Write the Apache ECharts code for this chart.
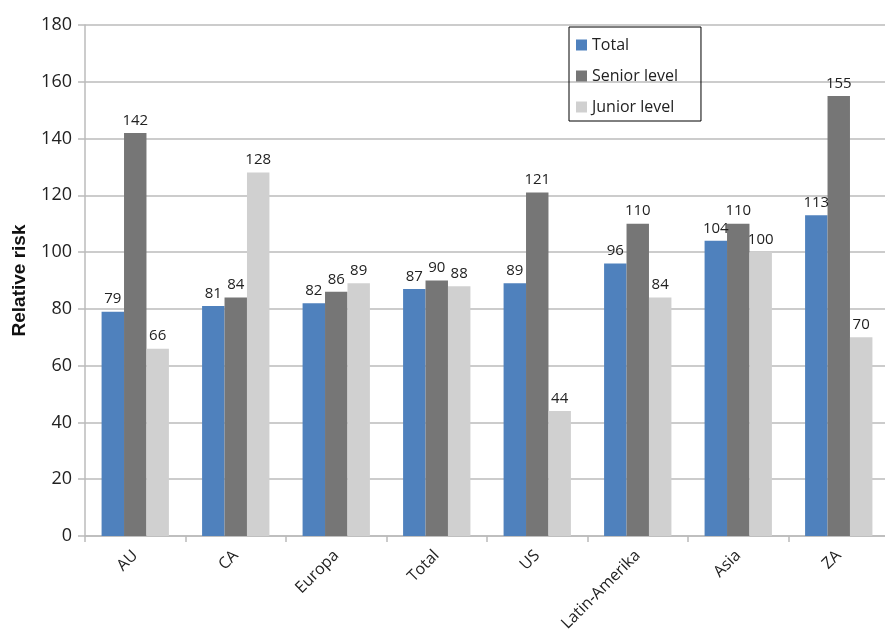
<!DOCTYPE html>
<html>
<head>
<meta charset="UTF-8">
<title>Relative risk</title>
<script src="https://cdn.jsdelivr.net/npm/echarts@6/dist/echarts.min.js"></script>
<style>
  html, body { margin: 0; padding: 0; background: #fff; }
  #main { width: 885px; height: 631px; }
</style>
</head>
<body>
<div id="main"></div>
<script>
// categories and values
var categories = ['AU', 'CA', 'Europa', 'Total', 'US', 'Latin-Amerika', 'Asia', 'ZA'];
var totalVals  = [79, 81, 82, 87, 89, 96, 104, 113];
var seniorVals = [142, 84, 86, 90, 121, 110, 110, 155];
var juniorVals = [66, 128, 89, 88, 44, 84, 100, 70];

var font = '"Open Sans", "Noto Sans", sans-serif';
var myChart = echarts.init(document.getElementById('main'));

function bar(name, data, color) {
    return {
        name: name,
        type: 'bar',
        data: data,
        barGap: '0%',
        barCategoryGap: '33%',
        itemStyle: { color: color },
        label: {
            show: true,
            position: 'top',
            distance: 5,
            color: '#222',
            fontSize: 15,
            fontFamily: font
        }
    };
}

var option = {
    animation: false,
    backgroundColor: '#fff',
    grid: { left: 85, top: 25, width: 804, bottom: 95, outerBoundsMode: 'none' },
    legend: {
        orient: 'vertical',
        left: 569,
        top: 27,
        padding: [10, 23, 6, 7],
        itemGap: 15,
        itemWidth: 11,
        itemHeight: 11,
        borderColor: '#000',
        borderWidth: 1,
        icon: 'rect',
        textStyle: { fontSize: 16, color: '#222', fontFamily: font },
        data: ['Total', 'Senior level', 'Junior level']
    },
    xAxis: {
        type: 'category',
        data: categories,
        axisLine: { lineStyle: { color: '#bbb', width: 1.5 } },
        axisTick: { show: true, length: 6, lineStyle: { color: '#bbb', width: 1.5 } },
        axisLabel: {
            rotate: 45,
            interval: 0,
            margin: 17,
            color: '#222',
            fontSize: 16,
            fontFamily: font
        }
    },
    yAxis: {
        type: 'value',
        min: 0,
        max: 180,
        interval: 20,
        name: 'Relative risk',
        nameLocation: 'middle',
        nameGap: 56,
        nameTextStyle: { fontSize: 19, fontWeight: 'bold', color: '#111', fontFamily: 'Liberation Sans, Arial, sans-serif' },
        axisLine: { show: true, lineStyle: { color: '#bbb', width: 1.5 } },
        axisTick: { show: true, length: 7, lineStyle: { color: '#bbb', width: 1.5 } },
        axisLabel: { color: '#222', fontSize: 18, fontFamily: font, margin: 13 },
        splitLine: { lineStyle: { color: '#bbb', width: 1.5 } }
    },
    series: [
        bar('Total', totalVals, '#4F81BD'),
        bar('Senior level', seniorVals, '#767676'),
        bar('Junior level', juniorVals, '#D0D0D0')
    ]
};

myChart.setOption(option);
</script>
</body>
</html>
